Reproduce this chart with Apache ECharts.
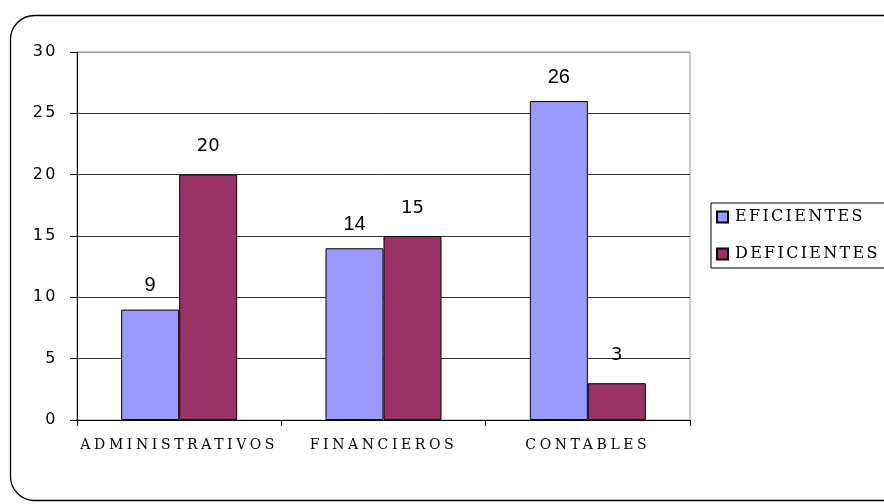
<!DOCTYPE html>
<html>
<head>
<meta charset="utf-8">
<script src="https://cdn.jsdelivr.net/npm/echarts@6/dist/echarts.min.js"></script>
<style>
  html, body { margin: 0; padding: 0; background: #fff; }
  #chart { width: 884px; height: 504px; }
</style>
</head>
<body>
<div id="chart"></div>
<script>
// Categories, series and axis ticks
var categories = ['ADMINISTRATIVOS', 'FINANCIEROS', 'CONTABLES'];
var eficientes = [9, 14, 26];
var deficientes = [20, 15, 3];
var seriesNames = ['EFICIENTES', 'DEFICIENTES'];
var yMin = 0, yMax = 30, yStep = 5;

var SERIF = '"DejaVu Serif", serif';
var TICK_SANS = '"DejaVu Sans", sans-serif';
var LABEL_SANS = 'Verdana, "DejaVu Sans", sans-serif';
var ARIAL = '"Liberation Sans", Arial, sans-serif';

// Wide tracking for the typewriter-style and tick texts
(function () {
  var proto = CanvasRenderingContext2D.prototype;
  var origFill = proto.fillText;
  proto.fillText = function () {
    var f = this.font || '';
    var ls = '0px';
    if (f.indexOf('DejaVu Serif') >= 0) {
      ls = parseFloat(f.match(/(\d+(\.\d+)?)px/)[1]) >= 16 ? '2.3px' : '3.6px';
    } else if (f.indexOf('Verdana') >= 0) {
      ls = '0px';
    } else if (f.indexOf('DejaVu Sans') >= 0) {
      ls = '2.5px';
    }
    if ('letterSpacing' in this) this.letterSpacing = ls;
    return origFill.apply(this, arguments);
  };
})();

var chart = echarts.init(document.getElementById('chart'), null, { renderer: 'canvas' });

var option = {
  animation: false,
  backgroundColor: '#fff',
  grid: {
    left: 77, right: 194, top: 52, bottom: 84,
    show: true, borderColor: '#999', borderWidth: 1, backgroundColor: 'transparent'
  },
  graphic: [{
    type: 'rect', z: 100, silent: true,
    shape: { x: 10.5, y: 15.5, width: 900, height: 485, r: 24 },
    style: { fill: 'none', stroke: '#000', lineWidth: 1.3 }
  }],
  legend: {
    orient: 'vertical',
    left: 711, top: 203,
    data: seriesNames,
    itemWidth: 11, itemHeight: 11, itemGap: 21,
    padding: [6, 62, 6, 5],
    borderColor: '#000', borderWidth: 1,
    icon: 'rect',
    textStyle: { fontFamily: SERIF, fontSize: 16, color: '#000', padding: [0, 0, 0, 2] }
  },
  xAxis: {
    type: 'category',
    data: categories,
    axisLine: { lineStyle: { color: '#000', width: 1 } },
    axisTick: { show: true, length: 6, lineStyle: { color: '#000' } },
    axisLabel: { fontFamily: SERIF, fontSize: 14, color: '#000', margin: 18 }
  },
  yAxis: {
    type: 'value',
    min: yMin, max: yMax, interval: yStep,
    axisLine: { show: true, lineStyle: { color: '#000', width: 1 } },
    axisTick: { show: true, length: 7, lineStyle: { color: '#000' } },
    axisLabel: { fontFamily: TICK_SANS, fontSize: 16, color: '#000', margin: 19 },
    splitLine: { show: true, lineStyle: { color: ['#333', '#333', '#333', '#333', '#333', '#333', '#999'], width: 1 } }
  },
  series: [{
    name: seriesNames[0],
    type: 'bar',
    data: eficientes,
    barWidth: 58,
    barGap: '0%',
    itemStyle: { color: '#9999FF', borderColor: '#000', borderWidth: 1 },
    label: { show: true, position: 'top', distance: 14, fontFamily: ARIAL, fontSize: 20, color: '#000' }
  }, {
    name: seriesNames[1],
    type: 'bar',
    data: deficientes,
    barWidth: 58,
    itemStyle: { color: '#993366', borderColor: '#000', borderWidth: 1 },
    label: { show: true, position: 'top', distance: 19, fontFamily: LABEL_SANS, fontSize: 18, color: '#000' }
  }]
};

chart.setOption(option);
</script>
</body>
</html>
